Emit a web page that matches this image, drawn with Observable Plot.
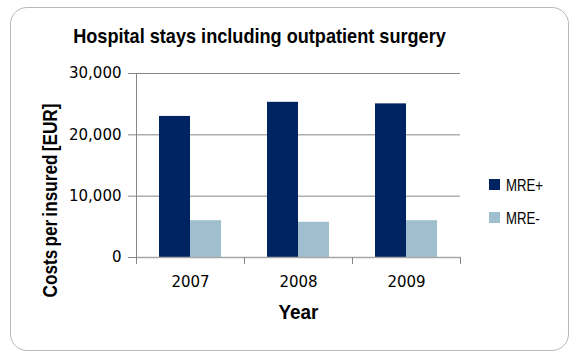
<!DOCTYPE html>
<html><head><meta charset="utf-8">
<script src="https://cdn.jsdelivr.net/npm/d3@7"></script>
<script src="https://cdn.jsdelivr.net/npm/@observablehq/plot@0.6"></script>
<style>
body{margin:0;background:#fff;}
#wrap{position:relative;width:580px;height:358px;overflow:hidden;font-family:"Liberation Sans",Arial,sans-serif;color:#000;}
#card{position:absolute;left:10px;top:7px;width:559px;height:344px;border:1.3px solid #b8b8b8;border-radius:17px;box-sizing:border-box;}
#chart{position:absolute;left:0;top:0;}
.t{position:absolute;white-space:nowrap;font-weight:bold;font-size:21px;line-height:21px;text-align:center;}
#title{left:0;width:519px;top:25px;transform:scaleX(0.863);}
#xlabel{left:248px;width:101px;top:301px;transform:scaleX(0.9);}
#ylabel{left:-101.3px;width:300px;top:189.5px;transform:rotate(-90deg) scaleX(0.82);word-spacing:-2px;}
.lg{position:absolute;left:489px;font-size:16.5px;line-height:16px;white-space:nowrap;}
.sw{position:absolute;left:0;width:11px;height:11px;}
.lt{position:absolute;left:16.7px;top:0;transform:scaleX(0.8);transform-origin:0 0;}
</style>
</head><body>
<div id="wrap">
  <div id="card"></div>
  <div id="chart"></div>
  <div class="t" id="title">Hospital stays including outpatient surgery</div>
  <div class="t" id="xlabel">Year</div>
  <div class="t" id="ylabel">Costs per insured [EUR]</div>
  <div id="legend"></div>
</div>
<script>
const years = ["2007", "2008", "2009"];
const series = ["MRE+", "MRE-"];
const mrePlus = [23000, 25300, 25050];
const mreMinus = [6000, 5750, 6000];
const yTicks = [0, 10000, 20000, 30000];
const colors = ["#002462", "#a0bfce"];

const rows = years.flatMap((y, i) => [
  {year: y, series: series[0], value: mrePlus[i]},
  {year: y, series: series[1], value: mreMinus[i]}
]);

const chart = Plot.plot({
  width: 580,
  height: 358,
  marginLeft: 136,
  marginRight: 120,
  marginTop: 73,
  marginBottom: 101,
  style: {fontFamily: "DejaVu Sans", fontSize: "15px", color: "#000", background: "transparent", overflow: "visible"},
  x: {domain: years, padding: 0, axis: null},
  y: {domain: [0, 30000], axis: null},
  color: {domain: series, range: colors},
  marks: [
    Plot.gridY(yTicks.slice(1), {stroke: "#868686", strokeOpacity: 1}),
    Plot.barY(rows.filter(d => d.series === series[0]), {x: "year", y: "value", fill: "series", insetLeft: 23, insetRight: 54}),
    Plot.barY(rows.filter(d => d.series === series[1]), {x: "year", y: "value", fill: "series", insetLeft: 54, insetRight: 23}),
    Plot.ruleY([0], {stroke: "#a6a6a6", strokeWidth: 1.5}),
    Plot.ruleX([years[0]], {dx: -54, stroke: "#868686", insetBottom: -7}),
    Plot.ruleX(years, {x: d => d, dx: 54, y1: 0, y2: 0, insetBottom: -7, stroke: "#868686"}),
    Plot.axisY({ticks: yTicks, tickSize: 8, tickPadding: 7, tickFormat: d3.format(","), stroke: "#868686", fill: "#000", label: null}),
    Plot.axisX({tickSize: 0, tickPadding: 19, label: null, fill: "#000"})
  ]
});
document.getElementById("chart").appendChild(chart);

const color = chart.scale("color");
const legend = document.getElementById("legend");
const legendTops = [176.5, 209.5];
series.forEach((s, i) => {
  const item = document.createElement("div");
  item.className = "lg";
  item.style.top = legendTops[i] + "px";
  const sw = document.createElement("span");
  sw.className = "sw";
  sw.style.background = color.apply(s);
  sw.style.top = "2.5px";
  const lt = document.createElement("span");
  lt.className = "lt";
  lt.textContent = s;
  item.appendChild(sw);
  item.appendChild(lt);
  legend.appendChild(item);
});
</script>
</body></html>
